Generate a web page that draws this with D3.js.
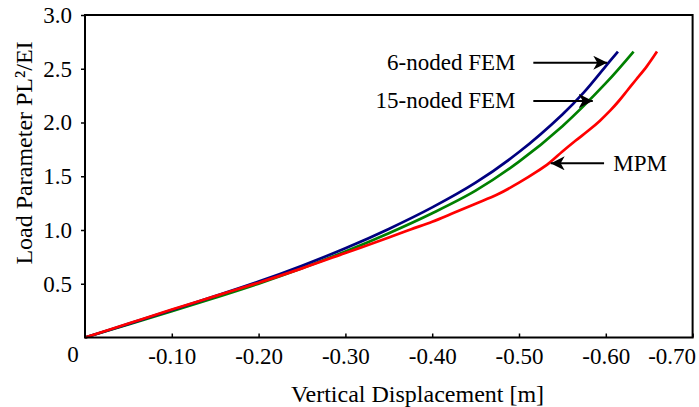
<!DOCTYPE html>
<html lang="en">
    <head>
        <meta charset="utf-8">
        <title>Load - Displacement</title>
        <script src="https://d3js.org/d3.v7.min.js"></script>
        <style type="text/css">
            body { margin: 0; background: #fff; }
            svg text { font-family: "Liberation Serif", "DejaVu Serif", serif !important; fill: #000; }
            .axis path { display: none; }
            .axis line { stroke: #000; stroke-width: 1.5px; }
            .axis text { font-size: 23px; }
            .curve { fill: none; stroke-width: 2.7px; stroke-linejoin: round; }
        </style>
    </head>
    <body>
        <script type="text/javascript">

            // data (displacement in m, load parameter)
            const dispFEM6  = [0, -0.05, -0.10, -0.15, -0.20, -0.25, -0.30, -0.35, -0.40, -0.45, -0.50, -0.55, -0.575, -0.60, -0.614];
            const loadFEM6  = [0, 0.127, 0.255, 0.385, 0.52, 0.668, 0.83, 1.01, 1.21, 1.44, 1.725, 2.075, 2.283, 2.525, 2.66];

            const dispFEM15 = [0, -0.05, -0.10, -0.15, -0.20, -0.25, -0.30, -0.35, -0.40, -0.45, -0.50, -0.55, -0.60, -0.632];
            const loadFEM15 = [0, 0.121, 0.244, 0.37, 0.501, 0.644, 0.80, 0.97, 1.156, 1.366, 1.636, 1.966, 2.366, 2.66];

            const dispMPM = [0, -0.05, -0.10, -0.15, -0.20, -0.25, -0.30, -0.35, -0.375, -0.40, -0.425, -0.45, -0.475, -0.50, -0.52, -0.535, -0.55, -0.565, -0.58, -0.593, -0.605, -0.615, -0.625, -0.635, -0.647, -0.659];
            const loadMPM = [0, 0.13, 0.26, 0.385, 0.51, 0.643, 0.786, 0.93, 1.005, 1.077, 1.16, 1.245, 1.33, 1.44, 1.54, 1.625, 1.73, 1.83, 1.925, 2.015, 2.11, 2.20, 2.30, 2.40, 2.52, 2.66];

            const xTicks = [-0.10, -0.20, -0.30, -0.40, -0.50, -0.60, -0.70];
            const yTicks = [0.5, 1.0, 1.5, 2.0, 2.5, 3.0];

            // annotations: label, text anchor point, arrow start, arrow end
            const noteLabels = ["6-noded FEM", "15-noded FEM", "MPM"];
            const noteTextX  = [-0.496, -0.496, -0.6086];
            const noteTextY  = [2.556, 2.2, 1.62];
            const noteAnchor = ["end", "end", "start"];
            const arrowFrom  = [-0.5165, -0.5165, -0.598];
            const arrowTo    = [-0.6017, -0.585, -0.5365];

            const w = 699;
            const h = 407;
            const mLeft = 85, mRight = 692.6, mTop = 15, mBottom = 337.5;
            const serif = "'Liberation Serif', 'DejaVu Serif', serif";

            const xScale = d3.scaleLinear()
                             .domain([0, -0.70])
                             .range([mLeft, mRight]);

            const yScale = d3.scaleLinear()
                             .domain([0, 3.0])
                             .range([mBottom, mTop]);

            const svg = d3.select("body")
                    .append("svg")
                    .attr("width", w)
                    .attr("height", h)
                    .attr("font-family", serif);

            svg.append("defs").append("marker")
                .attr("id", "head")
                .attr("viewBox", "0 -7 14 14")
                .attr("refX", 14)
                .attr("refY", 0)
                .attr("markerUnits", "userSpaceOnUse")
                .attr("markerWidth", 14)
                .attr("markerHeight", 14)
                .attr("orient", "auto")
              .append("path")
                .attr("d", "M0,-7 L14,0 L0,7 L4,0 Z")
                .attr("fill", "#000");

            // curves
            const line = d3.line()
                           .x(d => xScale(d[0]))
                           .y(d => yScale(d[1]))
                           .curve(d3.curveCatmullRom.alpha(0.5));

            const series = [
                {disp: dispFEM15, load: loadFEM15, color: "#008000"},
                {disp: dispFEM6,  load: loadFEM6,  color: "#000080"},
                {disp: dispMPM,   load: loadMPM,   color: "#ff0000"}
            ];

            series.forEach(s => {
                svg.append("path")
                   .datum(s.disp.map((d, i) => [d, s.load[i]]))
                   .attr("class", "curve")
                   .attr("stroke", s.color)
                   .attr("d", line);
            });

            //bottom axis, ticks inside
            const bottomAxis = d3.axisBottom(xScale)
                                 .tickValues(xTicks)
                                 .tickSizeInner(-4)
                                 .tickSizeOuter(0)
                                 .tickPadding(10)
                                 .tickFormat(d => d.toFixed(2));

            const gx = svg.append("g")
                .attr("class", "axis")
                .attr("transform", "translate(0," + mBottom + ")")
                .call(bottomAxis)
                .attr("font-family", serif)
                .attr("font-size", 23);
            gx.selectAll("text").attr("dy", "0.71em");
            gx.selectAll(".tick").filter(d => d === -0.70).select("text").attr("dx", -21);

            //left axis, ticks outside
            const leftAxis = d3.axisLeft(yScale)
                               .tickValues(yTicks)
                               .tickSizeInner(4)
                               .tickSizeOuter(0)
                               .tickPadding(9)
                               .tickFormat(d3.format(".1f"));

            svg.append("g")
               .attr("class", "axis")
               .attr("transform", "translate(" + mLeft + ",0)")
               .call(leftAxis)
               .attr("font-family", serif)
               .attr("font-size", 23);

            // shared origin label
            svg.append("text")
               .attr("x", xScale(0) - 12)
               .attr("y", 362)
               .attr("text-anchor", "middle")
               .attr("font-size", 23)
               .text("0");

            // frame
            svg.append("rect")
               .attr("x", mLeft)
               .attr("y", mTop)
               .attr("width", mRight - mLeft)
               .attr("height", mBottom - mTop)
               .attr("fill", "none")
               .attr("stroke", "#000")
               .attr("stroke-width", 2);

            // axis titles
            svg.append("text")
               .attr("x", 417.5)
               .attr("y", 401.5)
               .attr("text-anchor", "middle")
               .attr("font-size", 24)
               .text("Vertical Displacement [m]");

            svg.append("text")
               .attr("transform", "translate(32,153) rotate(-90)")
               .attr("text-anchor", "middle")
               .attr("font-size", 24)
               .text("Load Parameter PL²/EI");

            // annotations
            noteLabels.forEach((lab, i) => {
                svg.append("text")
                   .attr("x", xScale(noteTextX[i]))
                   .attr("y", yScale(noteTextY[i]))
                   .attr("dy", "0.32em")
                   .attr("text-anchor", noteAnchor[i])
                   .attr("font-size", 23)
                   .text(lab);

                svg.append("line")
                   .attr("x1", xScale(arrowFrom[i]))
                   .attr("x2", xScale(arrowTo[i]))
                   .attr("y1", yScale(noteTextY[i]))
                   .attr("y2", yScale(noteTextY[i]))
                   .attr("stroke", "#000")
                   .attr("stroke-width", 2)
                   .attr("marker-end", "url(#head)");
            });

        </script>
    </body>
</html>
